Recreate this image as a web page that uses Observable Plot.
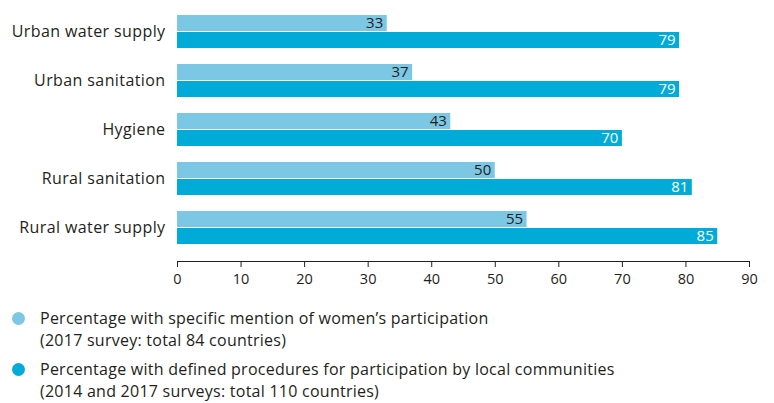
<!DOCTYPE html>
<html>
<head>
<meta charset="utf-8">
<script src="https://cdn.jsdelivr.net/npm/d3@7"></script>
<script src="https://cdn.jsdelivr.net/npm/@observablehq/plot@0.6"></script>
<style>
  html, body { margin: 0; padding: 0; background: #fff; }
  body { width: 774px; height: 403px; overflow: hidden; font-family: "Open Sans", sans-serif; color: #231f20; }
  #chart svg [aria-label^="y-axis"] text { font-size: 16px; letter-spacing: 0.4px; }
  #chart svg [aria-label^="x-axis"] text { font-size: 14.5px; }
  #legend { margin-top: 14px; font-size: 16px; letter-spacing: 0.25px; line-height: 21.5px; }
  .item { position: relative; padding-left: 40px; margin-bottom: 8px; }
  .dot { position: absolute; left: 12px; top: 4px; width: 13px; height: 13px; border-radius: 50%; }
</style>
</head>
<body>
<div id="chart"></div>
<div id="legend"></div>
<script>
const categories = ["Urban water supply", "Urban sanitation", "Hygiene", "Rural sanitation", "Rural water supply"];
const womenValues = [33, 37, 43, 50, 55];
const communityValues = [79, 79, 70, 81, 85];
const xTicks = [0, 10, 20, 30, 40, 50, 60, 70, 80, 90];
const seriesNames = [
  ["Percentage with specific mention of women’s participation", "(2017 survey: total 84 countries)"],
  ["Percentage with defined procedures for participation by local communities", "(2014 and 2017 surveys: total 110 countries)"]
];
const colors = ["#7bc7e4", "#00acd7"];

const women = categories.map((c, i) => ({category: c, value: womenValues[i]}));
const community = categories.map((c, i) => ({category: c, value: communityValues[i]}));

const chart = Plot.plot({
  width: 774,
  height: 294,
  marginLeft: 177,
  marginRight: 25,
  marginTop: 0,
  marginBottom: 33,
  style: {fontFamily: "'Open Sans', sans-serif", color: "#231f20", background: "#fff"},
  x: {domain: [0, 90], ticks: xTicks, tickSize: 6, tickPadding: 6, line: true, label: null, tickFormat: d => d},
  y: {domain: categories, paddingInner: 0.333, paddingOuter: 0.3, align: 0.45, tickSize: 0, tickPadding: 12, label: null},
  marks: [
    Plot.barX(women, {x: "value", y: "category", fill: colors[0], insetBottom: 17}),
    Plot.barX(community, {x: "value", y: "category", fill: colors[1], insetTop: 17}),
    Plot.text(women, {x: "value", y: "category", text: d => String(d.value), dx: -4, dy: -8.5, textAnchor: "end", fill: "#231f20", fontSize: 15}),
    Plot.text(community, {x: "value", y: "category", text: d => String(d.value), dx: -4, dy: 8.5, textAnchor: "end", fill: "#ffffff", fontSize: 15})
  ]
});
document.getElementById("chart").appendChild(chart);

const legend = document.getElementById("legend");
seriesNames.forEach((lines, i) => {
  const item = document.createElement("div");
  item.className = "item";
  const dot = document.createElement("span");
  dot.className = "dot";
  dot.style.background = colors[i];
  item.appendChild(dot);
  lines.forEach(l => {
    const d = document.createElement("div");
    d.textContent = l;
    item.appendChild(d);
  });
  legend.appendChild(item);
});
</script>
</body>
</html>
